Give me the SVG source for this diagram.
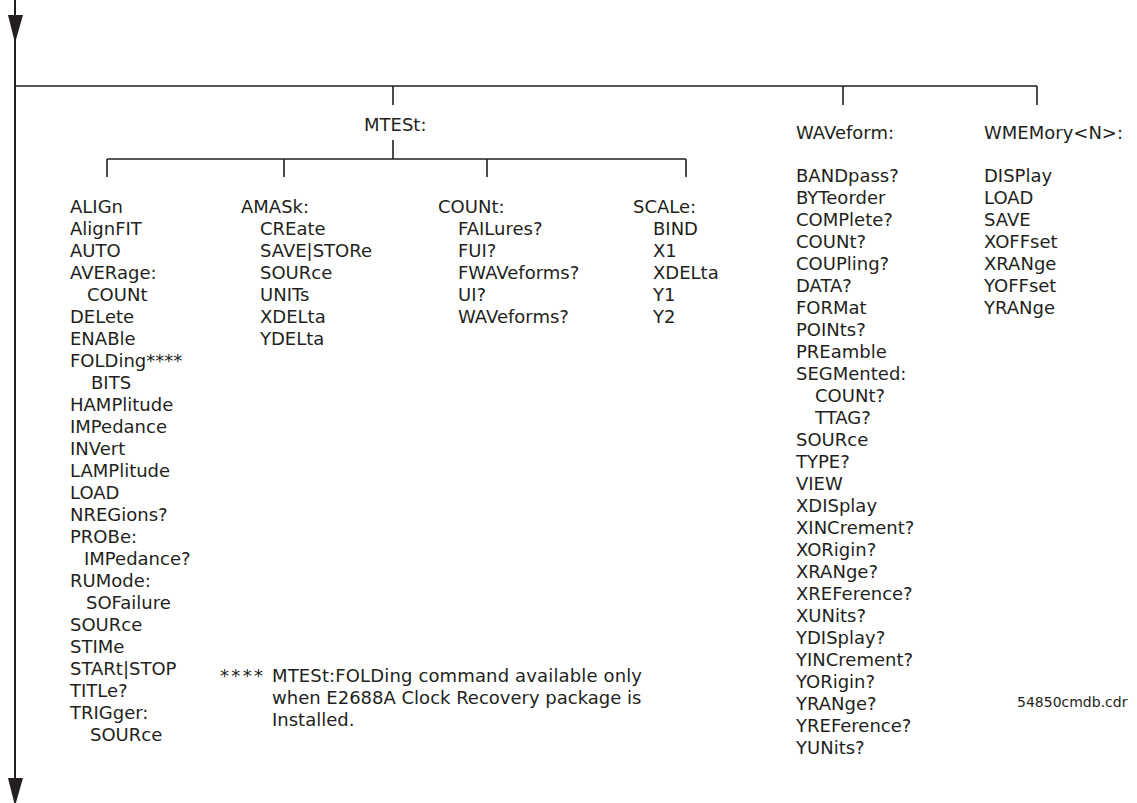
<svg xmlns="http://www.w3.org/2000/svg" width="1137" height="803" viewBox="0 0 1137 803">
<style>
.t{font-family:"DejaVu Sans",Verdana,sans-serif;font-size:18px;fill:#231f20}
.s{font-family:"DejaVu Sans",Verdana,sans-serif;font-size:14px;fill:#231f20}
.ln{stroke:#231f20;stroke-width:1.6;fill:none}
.ar{fill:#231f20}
</style>
<rect width="1137" height="803" fill="#ffffff"/>
<g id="connectors">
<line class="ln" x1="15" y1="0" x2="15" y2="790" style="stroke-width:2"/>
<polygon class="ar" points="8,15 23,15 15,43"/>
<polygon class="ar" points="8,778 23,778 15,806"/>
<line class="ln" x1="15" y1="86" x2="1037" y2="86"/>
<line class="ln" x1="393" y1="86" x2="393" y2="105"/>
<line class="ln" x1="843" y1="86" x2="843" y2="105"/>
<line class="ln" x1="1037" y1="86" x2="1037" y2="105"/>
<line class="ln" x1="393" y1="140" x2="393" y2="159"/>
<line class="ln" x1="107" y1="159" x2="686" y2="159"/>
<line class="ln" x1="107" y1="159" x2="107" y2="177"/>
<line class="ln" x1="284" y1="159" x2="284" y2="177"/>
<line class="ln" x1="487" y1="159" x2="487" y2="177"/>
<line class="ln" x1="686" y1="159" x2="686" y2="177"/>
</g>
<g id="mtest">
<text class="t" x="364" y="131">MTESt:</text>
</g>
<g id="mtest-main">
<text class="t">
<tspan x="70" y="213">ALIGn</tspan>
<tspan x="70" y="235">AlignFIT</tspan>
<tspan x="70" y="257">AUTO</tspan>
<tspan x="70" y="279">AVERage:</tspan>
<tspan x="87" y="301">COUNt</tspan>
<tspan x="70" y="323">DELete</tspan>
<tspan x="70" y="345">ENABle</tspan>
<tspan x="70" y="367">FOLDing****</tspan>
<tspan x="91" y="389">BITS</tspan>
<tspan x="70" y="411">HAMPlitude</tspan>
<tspan x="70" y="433">IMPedance</tspan>
<tspan x="70" y="455">INVert</tspan>
<tspan x="70" y="477">LAMPlitude</tspan>
<tspan x="70" y="499">LOAD</tspan>
<tspan x="70" y="521">NREGions?</tspan>
<tspan x="70" y="543">PROBe:</tspan>
<tspan x="84" y="565">IMPedance?</tspan>
<tspan x="70" y="587">RUMode:</tspan>
<tspan x="86" y="609">SOFailure</tspan>
<tspan x="70" y="631">SOURce</tspan>
<tspan x="70" y="653">STIMe</tspan>
<tspan x="70" y="675">STARt|STOP</tspan>
<tspan x="70" y="697">TITLe?</tspan>
<tspan x="70" y="719">TRIGger:</tspan>
<tspan x="90" y="741">SOURce</tspan>
</text>
</g>
<g id="amask">
<text class="t">
<tspan x="241" y="213">AMASk:</tspan>
<tspan x="260" y="235">CREate</tspan>
<tspan x="260" y="257">SAVE|STORe</tspan>
<tspan x="260" y="279">SOURce</tspan>
<tspan x="260" y="301">UNITs</tspan>
<tspan x="260" y="323">XDELta</tspan>
<tspan x="260" y="345">YDELta</tspan>
</text>
</g>
<g id="count">
<text class="t">
<tspan x="438" y="213">COUNt:</tspan>
<tspan x="458" y="235">FAILures?</tspan>
<tspan x="458" y="257">FUI?</tspan>
<tspan x="458" y="279">FWAVeforms?</tspan>
<tspan x="458" y="301">UI?</tspan>
<tspan x="458" y="323">WAVeforms?</tspan>
</text>
</g>
<g id="scale">
<text class="t">
<tspan x="633" y="213">SCALe:</tspan>
<tspan x="653" y="235">BIND</tspan>
<tspan x="653" y="257">X1</tspan>
<tspan x="653" y="279">XDELta</tspan>
<tspan x="653" y="301">Y1</tspan>
<tspan x="653" y="323">Y2</tspan>
</text>
</g>
<g id="footnote">
<text class="t" x="220" y="682" textLength="43" lengthAdjust="spacing">****</text>
<text class="t" x="272" y="682" textLength="370" lengthAdjust="spacing">MTESt:FOLDing command available only</text>
<text class="t">
<tspan x="272" y="704">when E2688A Clock Recovery package is</tspan>
<tspan x="272" y="726">Installed.</tspan>
</text>
</g>
<g id="waveform">
<text class="t" x="796" y="139">WAVeform:</text>
<text class="t">
<tspan x="796" y="182">BANDpass?</tspan>
<tspan x="796" y="204">BYTeorder</tspan>
<tspan x="796" y="226">COMPlete?</tspan>
<tspan x="796" y="248">COUNt?</tspan>
<tspan x="796" y="270">COUPling?</tspan>
<tspan x="796" y="292">DATA?</tspan>
<tspan x="796" y="314">FORMat</tspan>
<tspan x="796" y="336">POINts?</tspan>
<tspan x="796" y="358">PREamble</tspan>
<tspan x="796" y="380">SEGMented:</tspan>
<tspan x="815" y="402">COUNt?</tspan>
<tspan x="815" y="424">TTAG?</tspan>
<tspan x="796" y="446">SOURce</tspan>
<tspan x="796" y="468">TYPE?</tspan>
<tspan x="796" y="490">VIEW</tspan>
<tspan x="796" y="512">XDISplay</tspan>
<tspan x="796" y="534">XINCrement?</tspan>
<tspan x="796" y="556">XORigin?</tspan>
<tspan x="796" y="578">XRANge?</tspan>
<tspan x="796" y="600">XREFerence?</tspan>
<tspan x="796" y="622">XUNits?</tspan>
<tspan x="796" y="644">YDISplay?</tspan>
<tspan x="796" y="666">YINCrement?</tspan>
<tspan x="796" y="688">YORigin?</tspan>
<tspan x="796" y="710">YRANge?</tspan>
<tspan x="796" y="732">YREFerence?</tspan>
<tspan x="796" y="754">YUNits?</tspan>
</text>
</g>
<g id="wmemory">
<text class="t" x="984" y="139">WMEMory&lt;N&gt;:</text>
<text class="t">
<tspan x="984" y="182">DISPlay</tspan>
<tspan x="984" y="204">LOAD</tspan>
<tspan x="984" y="226">SAVE</tspan>
<tspan x="984" y="248">XOFFset</tspan>
<tspan x="984" y="270">XRANge</tspan>
<tspan x="984" y="292">YOFFset</tspan>
<tspan x="984" y="314">YRANge</tspan>
</text>
</g>
<g id="filename">
<text class="s" x="1017" y="707">54850cmdb.cdr</text>
</g>
</svg>
